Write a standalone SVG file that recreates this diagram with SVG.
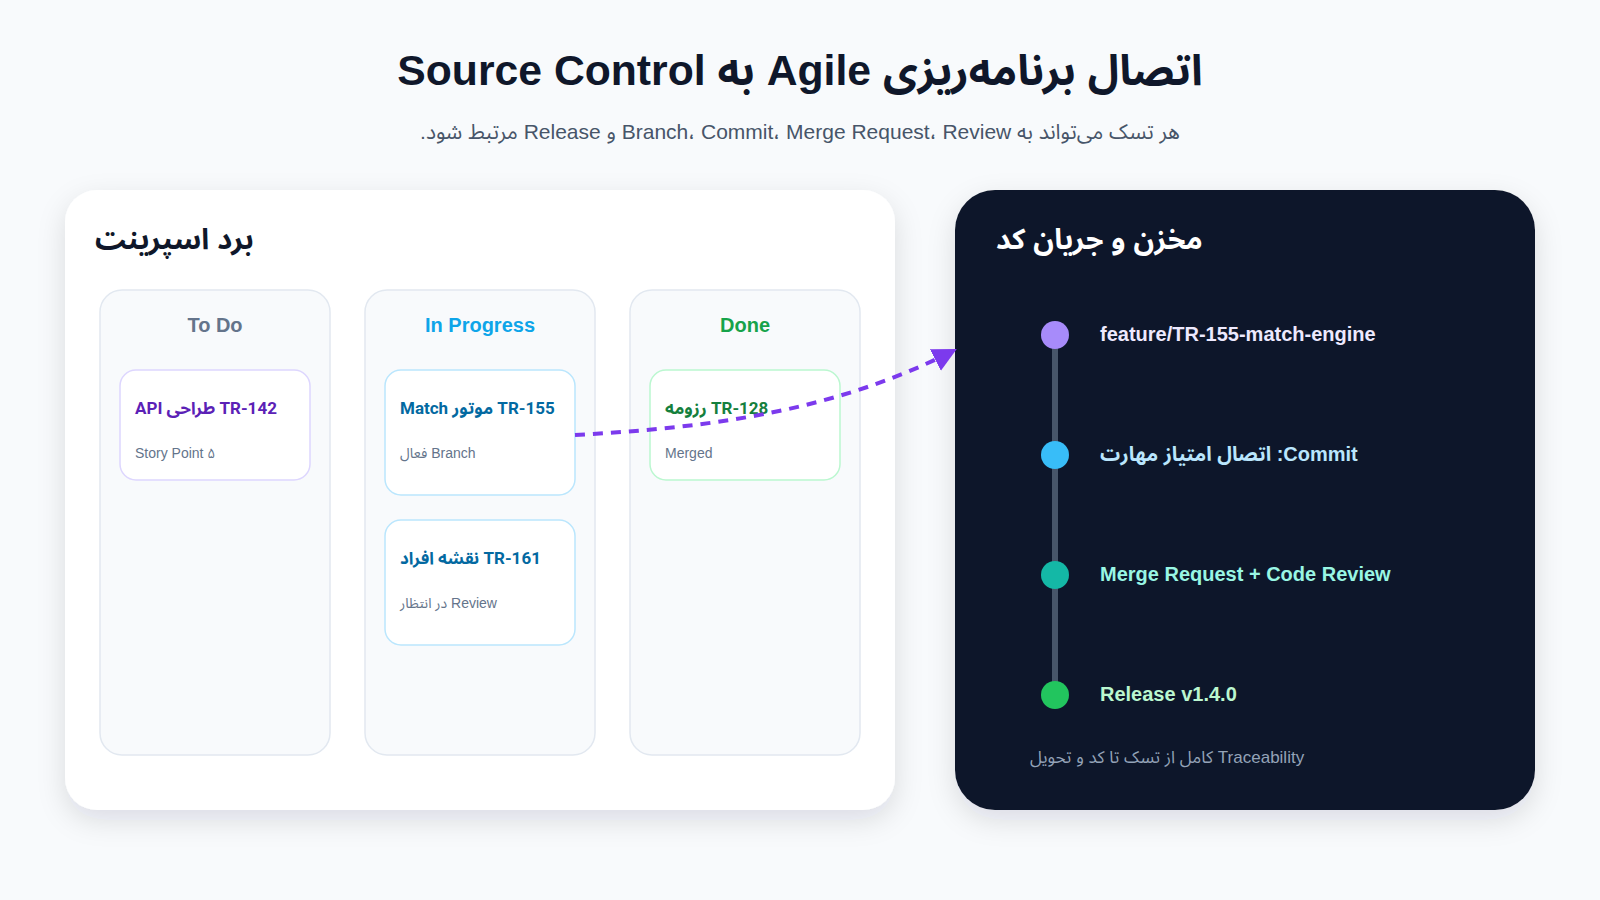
<svg xmlns="http://www.w3.org/2000/svg" width="1600" height="900" viewBox="0 0 1600 900">
  <defs>
    <style>
      .t { font-family: "Liberation Sans", "Noto Sans Arabic", "Vazirmatn", sans-serif; }
      .rtl { direction: rtl; unicode-bidi: embed; }
      .coltitle { font-family: "Liberation Sans", sans-serif; font-size: 20px; font-weight: bold; text-anchor: middle; }
      .col { fill: #f8fafc; stroke: #e2e8f0; stroke-width: 1.5; }
      .card { fill: #ffffff; stroke-width: 1.5; }
      .ctitle { font-family: "Roboto", "Noto Sans Arabic", "Vazirmatn", "Liberation Sans", sans-serif; font-size: 17px; font-weight: bold; direction: rtl; unicode-bidi: embed; text-anchor: end; }
      .csub { font-family: "Liberation Sans", "Noto Sans Arabic", "Vazirmatn", sans-serif; font-size: 14px; fill: #64748b; direction: rtl; unicode-bidi: embed; text-anchor: end; }
      .tl { font-family: "Liberation Sans", "Noto Sans Arabic", "Vazirmatn", sans-serif; font-size: 20px; font-weight: bold; }
    </style>
    <filter id="shadow" x="-10%" y="-10%" width="120%" height="130%">
      <feDropShadow dx="0" dy="10" stdDeviation="14" flood-color="#0f172a" flood-opacity="0.12"/>
    </filter>
    <marker id="arrow" markerUnits="userSpaceOnUse" markerWidth="30" markerHeight="30" refX="22" refY="12" orient="auto">
      <path d="M0,0 L24,12 L0,24 Z" fill="#7c3aed"/>
    </marker>
  </defs>

  <rect x="0" y="0" width="1600" height="900" fill="#f8fafc"/>

  <g id="header">
    <text class="t rtl" x="800" y="85" font-size="42.7" font-weight="bold" fill="#0f172a" text-anchor="middle">اتصال برنامه‌ریزی Agile به Source Control</text>
    <text class="t rtl" x="800" y="139" font-size="21" fill="#475569" text-anchor="middle">هر تسک می‌تواند به Branch، Commit، Merge Request، Review و Release مرتبط شود.</text>
  </g>

  <g id="sprint-board">
    <rect x="65" y="190" width="830" height="620" rx="32" fill="#ffffff" filter="url(#shadow)"/>
    <text class="t rtl" x="95" y="249" font-size="29" font-weight="bold" fill="#0f172a" text-anchor="end">برد اسپرینت</text>
  </g>

  <g id="col-todo">
    <rect class="col" x="100" y="290" width="230" height="465" rx="22"/>
    <text class="coltitle" x="215" y="332" fill="#64748b">To Do</text>
  </g>
  <g id="col-inprogress">
    <rect class="col" x="365" y="290" width="230" height="465" rx="22"/>
    <text class="coltitle" x="480" y="332" fill="#0ea5e9">In Progress</text>
  </g>
  <g id="col-done">
    <rect class="col" x="630" y="290" width="230" height="465" rx="22"/>
    <text class="coltitle" x="745" y="332" fill="#16a34a">Done</text>
  </g>

  <g id="card-tr142">
    <rect class="card" x="120" y="370" width="190" height="110" rx="16" stroke="#ddd6fe"/>
    <text class="ctitle" x="135" y="414" fill="#5b21b6">TR-142 طراحی API</text>
    <text class="csub" x="135" y="458">Story Point ۵</text>
  </g>
  <g id="card-tr155">
    <rect class="card" x="385" y="370" width="190" height="125" rx="16" stroke="#bae6fd"/>
    <text class="ctitle" x="400" y="414" fill="#0369a1">TR-155 موتور Match</text>
    <text class="csub" x="400" y="458">Branch فعال</text>
  </g>
  <g id="card-tr161">
    <rect class="card" x="385" y="520" width="190" height="125" rx="16" stroke="#bae6fd"/>
    <text class="ctitle" x="400" y="564" fill="#0369a1">TR-161 نقشه افراد</text>
    <text class="csub" x="400" y="608">Review در انتظار</text>
  </g>
  <g id="card-tr128">
    <rect class="card" x="650" y="370" width="190" height="110" rx="16" stroke="#bbf7d0"/>
    <text class="ctitle" x="665" y="414" fill="#15803d">TR-128 رزومه</text>
    <text class="csub" x="665" y="458">Merged</text>
  </g>

  <g id="repo-panel">
    <rect x="955" y="190" width="580" height="620" rx="40" fill="#0f172a" filter="url(#shadow)"/>
    <text class="t rtl" x="996" y="249" font-size="28.5" font-weight="bold" fill="#ffffff" text-anchor="end">مخزن و جریان کد</text>
    <line x1="1055" y1="335" x2="1055" y2="695" stroke="#475569" stroke-width="6"/>
    <text class="t rtl" x="1030" y="763" font-size="17" fill="#94a3b8" text-anchor="end">Traceability کامل از تسک تا کد و تحویل</text>
  </g>

  <g id="step-branch">
    <circle cx="1055" cy="335" r="14" fill="#a78bfa"/>
    <text class="tl" x="1100" y="341" fill="#ede9fe">feature/TR-155-match-engine</text>
  </g>
  <g id="step-commit">
    <circle cx="1055" cy="455" r="14" fill="#38bdf8"/>
    <text class="tl rtl" x="1100" y="461" fill="#bae6fd" text-anchor="end">Commit: اتصال امتیاز مهارت</text>
  </g>
  <g id="step-mr">
    <circle cx="1055" cy="575" r="14" fill="#14b8a6"/>
    <text class="tl" x="1100" y="581" fill="#99f6e4">Merge Request + Code Review</text>
  </g>
  <g id="step-release">
    <circle cx="1055" cy="695" r="14" fill="#22c55e"/>
    <text class="tl" x="1100" y="701" fill="#bbf7d0">Release v1.4.0</text>
  </g>

  <g id="connectors">
    <path d="M575,435 C700,428 830,414 955,350" fill="none" stroke="#7c3aed" stroke-width="4" stroke-dasharray="10 8" marker-end="url(#arrow)"/>
  </g>
</svg>
